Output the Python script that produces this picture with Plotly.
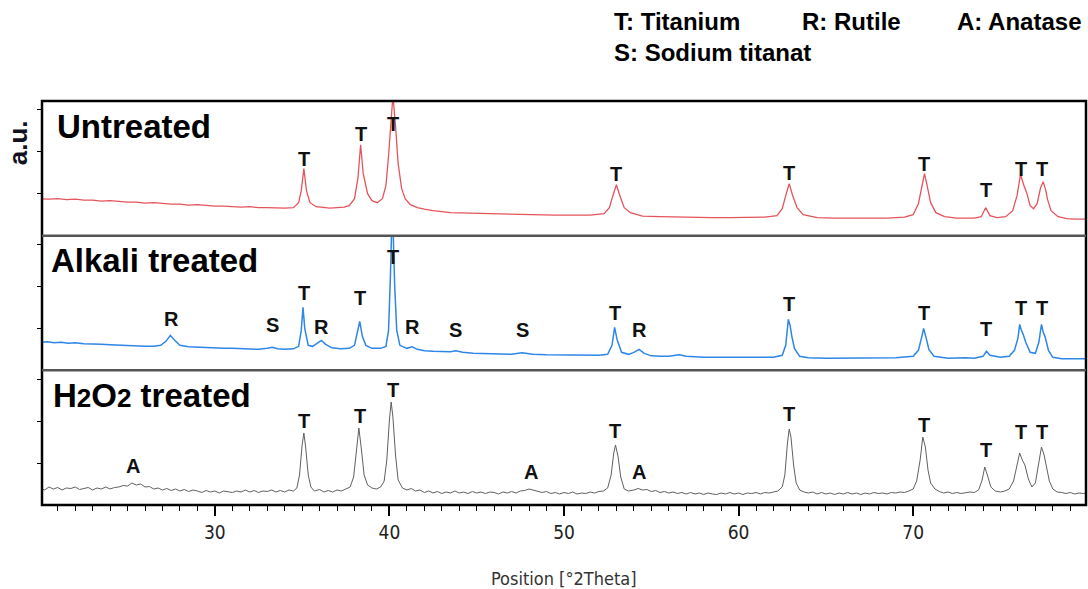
import plotly.graph_objects as go

# ---------------- data (arbitrary units) ----------------
untreated_2theta = [20.0, 20.5, 21.0, 21.5, 22.0, 22.5, 23.0, 23.5, 24.0, 24.5, 25.0, 25.5, 26.0, 26.5, 27.0, 27.5,
    28.0, 28.5, 29.0, 29.5, 30.0, 30.5, 31.0, 31.5, 32.0, 32.5, 33.0, 33.5, 34.0, 34.5, 34.8, 34.95, 35.1, 35.25,
    35.45, 35.8, 36.2, 36.6, 37.0, 37.4, 37.7, 38.0, 38.2, 38.35, 38.5, 38.75, 39.0, 39.3, 39.6, 39.8, 39.95,
    40.1, 40.2, 40.35, 40.5, 40.7, 40.9, 41.2, 41.6, 42.0, 42.5, 43.5, 44.5, 45.5, 46.5, 47.5, 48.5, 49.5, 50.5,
    51.5, 52.3, 52.6, 52.8, 53.0, 53.2, 53.45, 53.8, 54.5, 55.5, 56.5, 57.5, 58.5, 59.5, 60.5, 61.5, 62.2, 62.5,
    62.7, 62.9, 63.1, 63.35, 63.7, 64.5, 65.5, 66.5, 67.5, 68.5, 69.5, 70.0, 70.3, 70.5, 70.65, 70.8, 71.0, 71.3,
    71.8, 72.5, 73.5, 73.9, 74.15, 74.4, 74.8, 75.3, 75.7, 75.95, 76.15, 76.35, 76.5, 76.7, 76.9, 77.1, 77.3,
    77.45, 77.6, 77.7, 77.9, 78.3, 78.8, 79.3, 79.9]
untreated_counts = [37, 36.5, 37, 36, 36.5, 35.5, 35.5, 34.5, 35, 34, 33.5, 33.5, 32.5, 33, 32, 31.5,
    31.5, 30.5, 31, 30, 29.5, 29.5, 29, 28.5, 29, 28, 28, 27.5, 27.5, 28, 33, 45, 67, 45,
    33, 29, 28, 27.5, 28, 28.5, 30, 37, 58, 91, 62, 42, 35, 33, 37, 50, 80,
    125, 140, 110, 72, 47, 37, 31, 28, 26.5, 25, 23, 22.5, 22, 21.5, 21.5, 21, 20.5, 20.5,
    20.5, 22, 28, 40, 51, 40, 28, 23, 19.5, 19, 18.5, 18, 18, 18, 18, 18.5, 20, 27,
    40, 52, 40, 28, 21, 18, 17.5, 17.5, 17.5, 17.5, 18.5, 21, 32, 50, 62, 50, 33, 23,
    19, 17.5, 17.5, 19, 28, 20, 18, 19, 25, 40, 61, 50, 43, 30, 27, 32, 48,
    54, 45, 36, 25, 19, 17, 16.5, 16.5]

alkali_2theta = [20.0, 20.4, 20.8, 21.2, 21.6, 22.0, 22.5, 23.0, 23.5, 24.0, 24.5, 25.0, 25.5, 26.0, 26.5, 26.9,
    27.2, 27.45, 27.7, 28.0, 28.5, 29.0, 29.5, 30.0, 30.5, 31.0, 31.5, 32.0, 32.5, 33.0, 33.3, 33.6, 34.0, 34.5,
    34.8, 34.95, 35.05, 35.15, 35.35, 35.6, 35.9, 36.1, 36.35, 36.7, 37.2, 37.7, 38.0, 38.15, 38.3, 38.45, 38.65,
    39.0, 39.5, 39.8, 39.95, 40.05, 40.12, 40.22, 40.3, 40.42, 40.6, 41.0, 41.3, 41.6, 42.0, 42.5, 43.0, 43.5,
    43.8, 44.2, 44.8, 45.5, 46.0, 46.5, 47.0, 47.6, 48.2, 49.0, 50.0, 51.0, 52.0, 52.5, 52.75, 52.9, 53.05, 53.3,
    53.7, 54.0, 54.3, 54.6, 55.0, 55.5, 56.0, 56.6, 57.0, 58.0, 59.0, 60.0, 61.0, 62.0, 62.5, 62.7, 62.85, 62.95,
    63.05, 63.2, 63.5, 64.0, 65.0, 66.0, 67.0, 68.0, 69.0, 70.0, 70.3, 70.5, 70.6, 70.75, 70.9, 71.2, 72.0, 73.0,
    73.5, 74.0, 74.2, 74.4, 74.7, 75.0, 75.5, 75.8, 76.0, 76.1, 76.2, 76.3, 76.45, 76.7, 77.0, 77.2, 77.35, 77.45,
    77.55, 77.75, 78.0, 78.5, 79.0, 79.9]
alkali_counts = [28, 28.5, 27.5, 28, 27, 27.5, 26.5, 26.5, 26, 25.5, 25, 24.5, 24.5, 24, 24, 25,
    29, 35, 30, 25, 23.5, 23, 22.5, 22.5, 22, 22, 21.5, 21.5, 21, 22, 23, 21.5, 21, 21.5,
    24, 40, 63, 42, 25, 24, 28, 30, 26, 22.5, 21.5, 22, 25, 36, 49, 34, 25,
    22, 22, 24, 40, 90, 136, 136, 85, 40, 25, 22, 23.5, 21, 19.5, 19, 18.5, 18.5,
    19.5, 18, 17, 16.5, 16.5, 16, 16, 17.5, 16, 15.5, 15.5, 15, 15, 16, 25, 43, 30, 18,
    16, 18, 21, 17, 14.5, 14, 14, 15.5, 14, 13, 13, 12.5, 12.5, 13, 15, 25, 51, 45,
    34, 22, 14, 12.5, 12, 12, 12, 12.5, 12.5, 14, 20, 34, 42, 32, 21, 14, 12, 12.5,
    12, 14, 19, 15, 14, 13, 14, 20, 32, 46, 40, 36, 28, 18, 17, 28, 46, 38,
    34, 20, 13, 11.5, 11.5, 11.5]

h2o2_2theta = [20.0, 20.25, 20.5, 20.75, 21.0, 21.25, 21.5, 21.75, 22.0, 22.25, 22.5, 22.75, 23.0, 23.25, 23.5,
    23.75, 24.0, 24.25, 24.5, 24.75, 25.0, 25.25, 25.5, 25.75, 26.0, 26.25, 26.5, 26.75, 27.0, 27.25, 27.5, 27.75,
    28.0, 28.25, 28.5, 28.75, 29.0, 29.25, 29.5, 29.75, 30.0, 30.25, 30.5, 30.75, 31.0, 31.25, 31.5, 31.75, 32.0,
    32.25, 32.5, 32.75, 33.0, 33.25, 33.5, 33.75, 34.0, 34.25, 34.5, 34.7, 34.85, 35.0, 35.1, 35.2, 35.35, 35.5,
    35.7, 36.0, 36.25, 36.5, 36.75, 37.0, 37.25, 37.5, 37.75, 37.95, 38.1, 38.25, 38.4, 38.55, 38.75, 39.0, 39.25,
    39.5, 39.7, 39.85, 40.0, 40.1, 40.2, 40.35, 40.5, 40.75, 41.0, 41.25, 41.5, 41.75, 42.0, 42.25, 42.5, 42.75,
    43.0, 43.25, 43.5, 43.75, 44.0, 44.25, 44.5, 44.75, 45.0, 45.25, 45.5, 45.75, 46.0, 46.25, 46.5, 46.75, 47.0,
    47.25, 47.5, 47.75, 48.0, 48.25, 48.5, 48.75, 49.0, 49.25, 49.5, 49.75, 50.0, 50.25, 50.5, 50.75, 51.0, 51.25,
    51.5, 51.75, 52.0, 52.25, 52.5, 52.7, 52.85, 52.95, 53.1, 53.25, 53.45, 53.7, 54.0, 54.25, 54.5, 54.75, 55.0,
    55.25, 55.5, 55.75, 56.0, 56.25, 56.5, 56.75, 57.0, 57.25, 57.5, 57.75, 58.0, 58.25, 58.5, 58.75, 59.0, 59.25,
    59.5, 59.75, 60.0, 60.25, 60.5, 60.75, 61.0, 61.25, 61.5, 61.75, 62.0, 62.25, 62.5, 62.65, 62.8, 62.9, 63.0,
    63.15, 63.3, 63.5, 63.75, 64.0, 64.25, 64.5, 64.75, 65.0, 65.25, 65.5, 65.75, 66.0, 66.25, 66.5, 66.75, 67.0,
    67.25, 67.5, 67.75, 68.0, 68.25, 68.5, 68.75, 69.0, 69.25, 69.5, 69.75, 70.0, 70.2, 70.4, 70.55, 70.7, 70.85,
    71.0, 71.25, 71.5, 71.75, 72.0, 72.25, 72.5, 72.75, 73.0, 73.25, 73.5, 73.75, 73.95, 74.1, 74.25, 74.45, 74.7,
    75.0, 75.25, 75.5, 75.75, 75.95, 76.1, 76.25, 76.4, 76.6, 76.8, 77.0, 77.2, 77.35, 77.5, 77.65, 77.8, 78.0,
    78.25, 78.5, 78.75, 79.0, 79.25, 79.5, 79.75, 79.9]
h2o2_counts = [17, 15, 18, 16, 17.5, 15, 17, 16.5, 18, 15.5, 16.5, 17.5, 15, 17, 16,
    18, 16, 17.5, 18, 19.5, 19, 22, 20, 21, 18, 18.5, 16, 17, 15, 16.5, 14.5, 16,
    14, 15.5, 13.5, 15, 14, 12.5, 14.5, 13, 14, 12, 14, 13.5, 12.5, 14, 13, 15, 13,
    14.5, 12.5, 14, 13.5, 15, 13, 14.5, 13, 15, 14, 17, 30, 60, 72, 58, 30, 18,
    14, 15.5, 13, 14.5, 13, 15, 14, 16, 18, 28, 52, 77, 55, 30, 20, 17, 16,
    18, 24, 45, 85, 103, 88, 50, 25, 17, 15, 16.5, 14, 15, 12.5, 14, 12, 13.5,
    11.5, 13, 12, 14, 12, 13, 11.5, 13.5, 12, 13, 11.5, 13, 12.5, 11, 13, 12, 13.5,
    12, 14, 14.5, 16, 15, 14, 12.5, 13.5, 11.5, 12.5, 11, 12.5, 11.5, 13, 11, 12, 11.5,
    13, 12, 13.5, 14, 17, 30, 52, 60, 48, 28, 16, 14, 15, 16.5, 15, 15.5, 13.5,
    14.5, 12.5, 13.5, 12, 13, 11.5, 12.5, 11, 12.5, 11, 12, 10.5, 12, 11, 10.5, 12, 11,
    12.5, 11, 12, 10.5, 12, 11.5, 12.5, 11, 12.5, 12, 13, 14, 18, 30, 62, 76, 68,
    40, 22, 15, 13, 12, 13, 11, 12.5, 11, 12, 10.5, 12, 11, 12.5, 11, 12, 10.5,
    12, 11, 12.5, 11.5, 12, 11, 12.5, 12, 13, 12.5, 14, 16, 24, 45, 68, 58, 35,
    22, 16, 13.5, 12, 13, 11.5, 12.5, 11.5, 12, 13, 12.5, 15, 25, 38, 30, 18, 14,
    13, 14, 16, 24, 40, 52, 45, 40, 26, 18, 22, 45, 58, 50, 38, 24, 16,
    13, 12.5, 11.5, 12.5, 11, 12, 11.5, 12]

# phase labels above peaks
untreated_label_x = [35.1, 38.4, 40.2, 53.0, 62.9, 70.6, 74.2, 76.2, 77.4]
untreated_label_y = [77, 102, 112, 62, 63, 72, 46, 67, 67]
untreated_label_t = ["T", "T", "T", "T", "T", "T", "T", "T", "T"]

alkali_label_x = [27.5, 33.3, 35.1, 36.1, 38.3, 40.2, 41.3, 43.8, 47.6, 52.9, 54.3, 62.9, 70.6, 74.2, 76.2, 77.4]
alkali_label_y = [51, 45, 77, 43, 72, 113, 43, 40, 40, 57, 40, 66, 57, 41, 62, 62]
alkali_label_t = ["R", "S", "T", "R", "T", "T", "R", "S", "S", "T", "R", "T", "T", "T", "T", "T"]

h2o2_label_x = [25.3, 35.1, 38.3, 40.2, 48.1, 52.9, 54.3, 62.9, 70.6, 74.2, 76.2, 77.4]
h2o2_label_y = [39, 84, 89, 115, 33, 74, 33, 91, 80, 55, 73, 73]
h2o2_label_t = ["A", "T", "T", "T", "A", "T", "A", "T", "T", "T", "T", "T"]

panel_names = ["Untreated", "Alkali treated",
               "H<span style='font-size:26px'>2</span>O<span style='font-size:26px'>2</span> treated"]
legend_items = ["T: Titanium", "R: Rutile", "A: Anatase", "S: Sodium titanat"]
x_tick_vals = [30, 40, 50, 60, 70]
x_title = "Position [°2Theta]"
y_title = "a.u."

# ---------------- figure ----------------
BOLD = "Liberation Sans, Arial, sans-serif"
NARROW = "Liberation Sans Narrow, Arial Narrow, DejaVu Sans Condensed, sans-serif"

fig = go.Figure()
fig.add_trace(go.Scatter(x=untreated_2theta, y=untreated_counts, mode="lines", xaxis="x", yaxis="y3",
                         line=dict(color="#e5545c", width=1.3), hoverinfo="skip"))
fig.add_trace(go.Scatter(x=alkali_2theta, y=alkali_counts, mode="lines", xaxis="x", yaxis="y2",
                         line=dict(color="#2e86e6", width=1.5), hoverinfo="skip"))
fig.add_trace(go.Scatter(x=h2o2_2theta, y=h2o2_counts, mode="lines", xaxis="x", yaxis="y",
                         line=dict(color="#606060", width=1.0), hoverinfo="skip"))

annotations = []
for xs, ys, ts, yref in [(untreated_label_x, untreated_label_y, untreated_label_t, "y3"),
                         (alkali_label_x, alkali_label_y, alkali_label_t, "y2"),
                         (h2o2_label_x, h2o2_label_y, h2o2_label_t, "y")]:
    for xv, yv, tv in zip(xs, ys, ts):
        annotations.append(dict(x=xv, y=yv, xref="x", yref=yref, text="<b>%s</b>" % tv, showarrow=False,
                                font=dict(family=BOLD, size=20, color="#111111"),
                                xanchor="center", yanchor="middle"))

for name, px, py in zip(panel_names, [0.012, 0.007, 0.009], [0.938, 0.606, 0.272]):
    annotations.append(dict(x=px, y=py, xref="paper", yref="paper", text="<b>%s</b>" % name,
                            showarrow=False, xanchor="left", yanchor="middle",
                            font=dict(family=BOLD, size=33, color="#000000")))

for txt, px, py in zip(legend_items, [0.546, 0.726, 0.8745, 0.546], [1.198, 1.198, 1.198, 1.119]):
    annotations.append(dict(x=px, y=py, xref="paper", yref="paper", text="<b>%s</b>" % txt,
                            showarrow=False, xanchor="left", yanchor="middle",
                            font=dict(family=BOLD, size=24, color="#000000")))

annotations.append(dict(x=-0.023, y=0.898, xref="paper", yref="paper", text="<b>%s</b>" % y_title,
                        showarrow=False, textangle=-90, xanchor="center", yanchor="middle",
                        font=dict(family=BOLD, size=26, color="#111122")))
annotations.append(dict(x=0.5, y=-0.181, xref="paper", yref="paper", text=x_title,
                        showarrow=False, xanchor="center", yanchor="middle",
                        font=dict(family=NARROW, size=18, color="#333333")))

shapes = [
    dict(type="rect", xref="paper", yref="paper", x0=0, x1=1, y0=0, y1=1,
         line=dict(color="#000000", width=2.5)),
    dict(type="line", xref="paper", yref="paper", x0=0, x1=1, y0=1/3, y1=1/3,
         line=dict(color="#555555", width=2.5)),
    dict(type="line", xref="paper", yref="paper", x0=0, x1=1, y0=2/3, y1=2/3,
         line=dict(color="#555555", width=2.5)),
]

yax = dict(range=[0, 134.7], tickvals=[42, 84, 126], ticks="outside", ticklen=4, tickwidth=1,
           tickcolor="#000000", showticklabels=False, showgrid=False, zeroline=False, showline=False,
           fixedrange=True)

fig.update_layout(
    width=1088, height=589,
    margin=dict(l=42, r=2, t=101, b=84),
    paper_bgcolor="white", plot_bgcolor="white",
    showlegend=False,
    xaxis=dict(range=[20.1, 79.9], tickvals=x_tick_vals, ticks="outside", ticklen=10, tickwidth=1.5,
               tickcolor="#000000", showgrid=False, zeroline=False, showline=False, anchor="y",
               tickfont=dict(family=NARROW, size=19, color="#222222"),
               minor=dict(dtick=1, tick0=0, ticks="outside", ticklen=5, tickwidth=1, tickcolor="#000000",
                          showgrid=False)),
    yaxis=dict(domain=[0, 1/3], **yax),
    yaxis2=dict(domain=[1/3, 2/3], **yax),
    yaxis3=dict(domain=[2/3, 1], **yax),
    annotations=annotations,
    shapes=shapes,
)

fig.write_html("out.html", config={"displayModeBar": False},
               post_script="document.body.style.margin='0';document.body.style.overflow='hidden';")
